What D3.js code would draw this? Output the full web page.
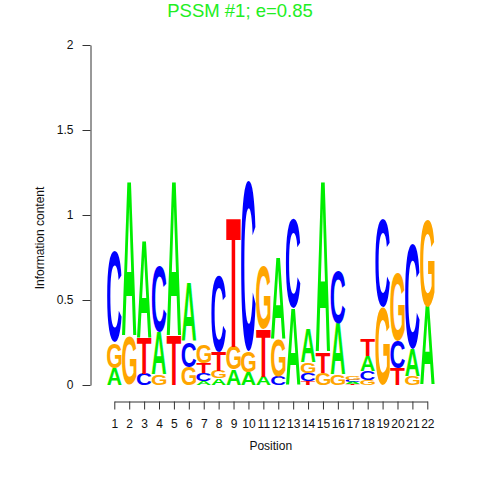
<!DOCTYPE html>
<html>
<head>
<meta charset="utf-8">
<script src="https://cdn.jsdelivr.net/npm/d3@7"></script>
<style>
  html, body { margin: 0; padding: 0; background: #fff; }
  svg { display: block; }
  text { font-family: "Liberation Sans", Arial, Helvetica, sans-serif; }
</style>
</head>
<body>
<svg id="chart" width="480" height="480"></svg>
<script>
// ---- data (information content per base, per position) ----
const positions = d3.range(1, 23);
const bases = ["A", "C", "G", "T"];
const A = [0.10, 0.90, 0.57, 0.25, 0.90, 0.34, 0.025, 0.04, 0.09, 0.075, 0.05, 0.48, 0.45, 0.20, 1.00, 0.30, 0.012, 0.09, 0, 0, 0.16, 0.46];
const C = [0.535, 0, 0.065, 0.39, 0, 0.15, 0.045, 0.45, 0, 1.00, 0, 0.05, 0.53, 0.045, 0, 0.31, 0.015, 0.05, 0.52, 0.16, 0.62, 0];
const G = [0.15, 0.29, 0, 0.06, 0, 0.105, 0.11, 0.045, 0.135, 0.12, 0.37, 0.22, 0, 0.065, 0.07, 0.06, 0.02, 0.03, 0.46, 0.40, 0.05, 0.51];
const T = [0, 0, 0.21, 0, 0.29, 0, 0.06, 0.11, 0.76, 0, 0.28, 0, 0, 0.025, 0.12, 0, 0.005, 0.10, 0, 0.10, 0, 0];
const yTicks = [0, 0.5, 1, 1.5, 2];
const yTickLabels = ["0", "0.5", "1", "1.5", "2"];
const title = "PSSM #1; e=0.85";
const xLabel = "Position";
const yLabel = "Information content";
const colors = { A: "#00ee00", C: "#0000ff", G: "#ffa500", T: "#ff0000" };

const series = { A, C, G, T };

const svg = d3.select("#chart");
const x = d3.scaleLinear().domain([1, 22]).range([114.3, 427.3]);
const y = d3.scaleLinear().domain([0, 2]).range([385, 45]);

// glyph ink metrics via canvas
const FONT = "bold 200px 'Liberation Sans'";
const cv = document.createElement("canvas").getContext("2d");
cv.font = FONT;
const metrics = {};
bases.forEach(b => {
  const m = cv.measureText(b);
  metrics[b] = {
    left: m.actualBoundingBoxLeft,
    w: m.actualBoundingBoxLeft + m.actualBoundingBoxRight,
    asc: m.actualBoundingBoxAscent,
    h: m.actualBoundingBoxAscent + m.actualBoundingBoxDescent
  };
});

// build stacks
const stacks = [];
positions.forEach((p, i) => {
  const col = bases.map(b => ({ base: b, v: series[b][i] }))
    .filter(d => d.v > 0)
    .sort((a, b) => a.v - b.v);
  let cum = 0;
  col.forEach(d => {
    stacks.push({ pos: p, base: d.base, y0: cum, y1: cum + d.v });
    cum += d.v;
  });
});

const colW = (x(2) - x(1)) * 0.97;
const g = svg.append("g");
g.selectAll("text.letter")
  .data(stacks)
  .join("text")
  .attr("class", "letter")
  .style("font", FONT)
  .attr("fill", d => colors[d.base])
  .attr("transform", d => {
    const m = metrics[d.base];
    const x0 = x(d.pos) - colW / 2;
    const yTop = y(d.y1);
    const hh = y(d.y0) - y(d.y1);
    const sx = colW / m.w, sy = hh / m.h;
    return `translate(${x0},${yTop}) scale(${sx},${sy}) translate(${m.left},${m.asc})`;
  })
  .text(d => d.base);

// axes
const yAxis = d3.axisLeft(y)
  .tickValues(yTicks)
  .tickFormat((d, i) => yTickLabels[i])
  .tickSize(8).tickSizeOuter(0).tickPadding(9);
const ya = svg.append("g").attr("transform", "translate(90.5,0)").call(yAxis);

const xAxis = d3.axisBottom(x)
  .tickValues(positions)
  .tickFormat(d3.format("d"))
  .tickSize(8).tickSizeOuter(0).tickPadding(10);
const xa = svg.append("g").attr("transform", "translate(0,401.5)").call(xAxis);

[ya, xa].forEach(a => {
  a.selectAll("path.domain").attr("stroke", "#333");
  a.selectAll(".tick line").attr("stroke", "#333");
  a.selectAll("text").attr("font-size", 12).attr("fill", "#111")
    .style("font-family", "'Liberation Sans', Arial, sans-serif");
});

svg.append("text")
  .attr("x", 240).attr("y", 16.5)
  .attr("text-anchor", "middle")
  .attr("font-size", 18.5)
  .attr("fill", "#22ee22")
  .text(title);

svg.append("text")
  .attr("x", x(11.5)).attr("y", 450)
  .attr("text-anchor", "middle")
  .attr("font-size", 12)
  .attr("fill", "#111")
  .text(xLabel);

svg.append("text")
  .attr("transform", "translate(44,238) rotate(-90)")
  .attr("text-anchor", "middle")
  .attr("font-size", 12)
  .attr("fill", "#111")
  .text(yLabel);
</script>
</body>
</html>
